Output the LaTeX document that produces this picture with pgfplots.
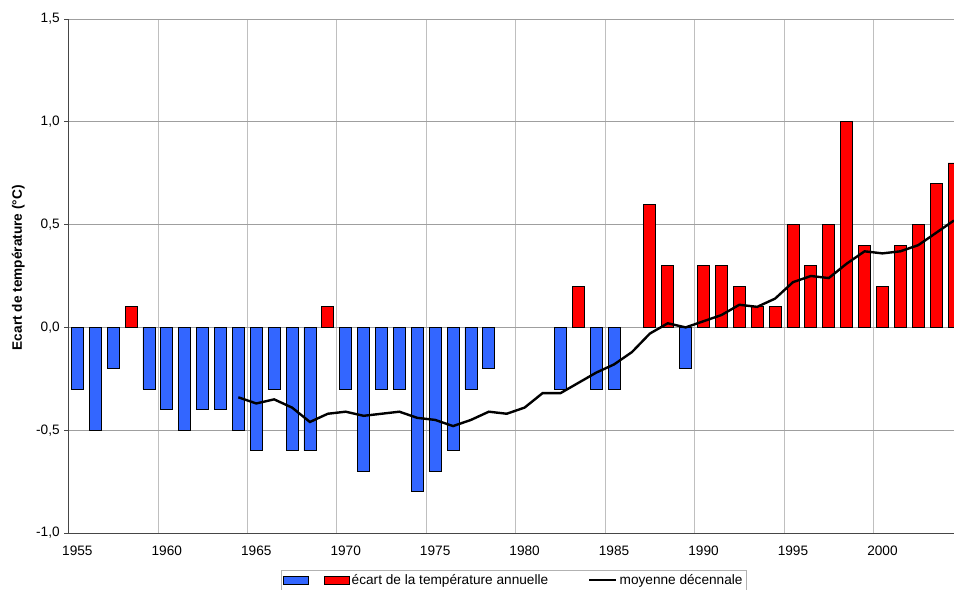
\documentclass[border=0pt]{standalone}
\usepackage{pgfplots}
\pgfplotsset{compat=1.18}
\usepackage{fontspec}
\setmainfont{Liberation Sans}
\usetikzlibrary{calc}
\definecolor{barblue}{RGB}{51,102,255}
\definecolor{barred}{RGB}{255,0,0}
\newcommand{\chartfont}{\fontsize{13.7}{15.5}\selectfont}
\begin{document}
\chartfont
\begin{tikzpicture}
\begin{axis}[
  scale only axis,
  width=885.6bp, height=514bp,
  xmin=1954.5, xmax=2004,
  ymin=-1, ymax=1.5,
  ytick={-1,-0.5,0,0.5,1,1.5},
  xtick={1955,1960,1965,1970,1975,1980,1985,1990,1995,2000},
  minor xtick={1959.5,1964.5,1969.5,1974.5,1979.5,1984.5,1989.5,1994.5,1999.5},
  axis x line=bottom, axis y line=left,
  axis line style={-, draw=gray!55!black, line width=0.8pt},
  xtick style={draw=none},
  minor tick length=0pt,
  ytick style={draw=gray!55!black, line width=0.6pt},
  tick align=outside,
  major tick length=4bp,
  ymajorgrids, xminorgrids,
  major grid style={draw=gray!75, line width=0.6pt},
  minor grid style={draw=gray!50, line width=0.6pt},
  /pgf/number format/assume math mode=true,
  yticklabel style={/pgf/number format/.cd, fixed, fixed zerofill, precision=1, use comma},
  xticklabel style={/pgf/number format/1000 sep={}, yshift=-4bp},
  tick label style={font=\chartfont},
  ylabel={\bfseries Ecart de température (°C)},
  ylabel style={at={(axis description cs:-0.0565,0.516)}, anchor=center, font=\chartfont},
  legend style={at={(0.503,-0.072)}, anchor=north, legend columns=3, draw=gray!60,
    font=\chartfont, inner xsep=2bp, inner ysep=2bp,
    /tikz/column 2/.style={column sep=11bp},
    /tikz/column 4/.style={column sep=38bp},
    nodes={inner xsep=2bp}},
  clip=true,
]
\addplot[ybar, bar width=0.67, bar shift=0pt, fill=barblue, draw=black, line width=0.8pt,
  legend image code/.code={\draw[fill=barblue, draw=black, line width=0.8pt] (0bp,-4bp) rectangle (25bp,4bp);}]
coordinates {(1955,-0.3)(1956,-0.5)(1957,-0.2)(1959,-0.3)(1960,-0.4)(1961,-0.5)(1962,-0.4)(1963,-0.4)(1964,-0.5)(1965,-0.6)(1966,-0.3)(1967,-0.6)(1968,-0.6)(1970,-0.3)(1971,-0.7)(1972,-0.3)(1973,-0.3)(1974,-0.8)(1975,-0.7)(1976,-0.6)(1977,-0.3)(1978,-0.2)(1982,-0.3)(1984,-0.3)(1985,-0.3)(1989,-0.2)};
\addlegendentry{\mbox{}}
\addplot[ybar, bar width=0.67, bar shift=0pt, fill=barred, draw=black, line width=0.8pt,
  legend image code/.code={\draw[fill=barred, draw=black, line width=0.8pt] (0bp,-4bp) rectangle (25bp,4bp);}]
coordinates {(1958,0.1)(1969,0.1)(1983,0.2)(1987,0.6)(1988,0.3)(1990,0.3)(1991,0.3)(1992,0.2)(1993,0.1)(1994,0.1)(1995,0.5)(1996,0.3)(1997,0.5)(1998,1.0)(1999,0.4)(2000,0.2)(2001,0.4)(2002,0.5)(2003,0.7)(2004,0.8)};
\addlegendentry{écart de la température annuelle}
\addplot[black, line width=2.4pt, mark=none,
  legend image code/.code={\draw[black, line width=2.4pt] (0bp,0bp) -- (27bp,0bp);}]
coordinates {(1964,-0.34)(1965,-0.37)(1966,-0.35)(1967,-0.39)(1968,-0.46)(1969,-0.42)(1970,-0.41)(1971,-0.43)(1972,-0.42)(1973,-0.41)(1974,-0.44)(1975,-0.45)(1976,-0.48)(1977,-0.45)(1978,-0.41)(1979,-0.42)(1980,-0.39)(1981,-0.32)(1982,-0.32)(1983,-0.27)(1984,-0.22)(1985,-0.18)(1986,-0.12)(1987,-0.03)(1988,0.02)(1989,0.0)(1990,0.03)(1991,0.06)(1992,0.11)(1993,0.10)(1994,0.14)(1995,0.22)(1996,0.25)(1997,0.24)(1998,0.31)(1999,0.37)(2000,0.36)(2001,0.37)(2002,0.40)(2003,0.46)(2004,0.52)};
\addlegendentry{moyenne décennale}
\end{axis}
\pgfresetboundingbox
\path[use as bounding box] ($(current axis.south west)+(-68.4bp,-57bp)$) rectangle ($(current axis.north east)+(0bp,19bp)$);
\end{tikzpicture}
\end{document}
